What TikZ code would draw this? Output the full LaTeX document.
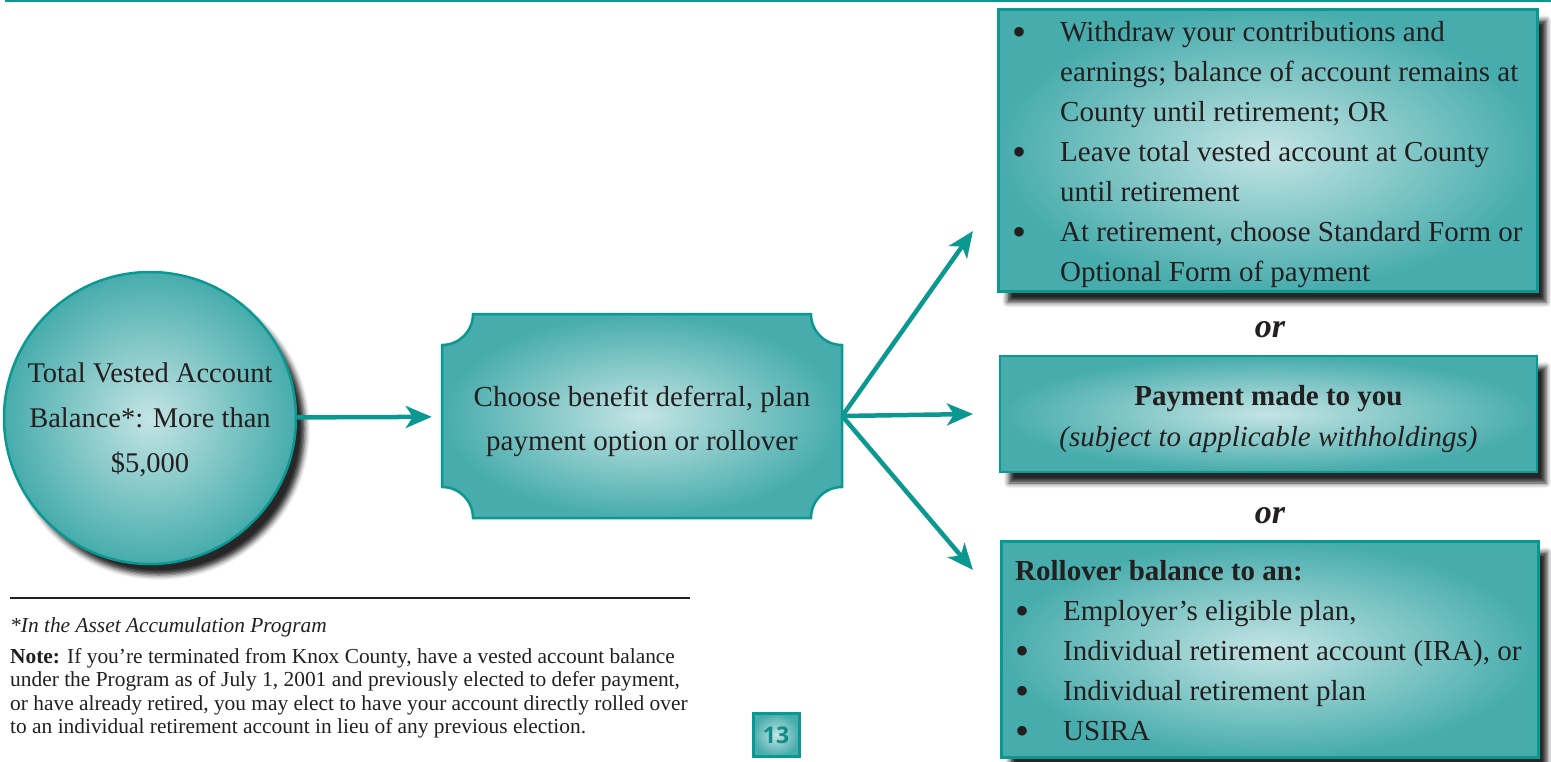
\documentclass[tikz,border=0pt]{standalone}
\usepackage{fontspec}
\setmainfont{Liberation Serif}
\newfontfamily\numfont{Open Sans}
\usetikzlibrary{arrows.meta,shadows.blur}
\definecolor{teal1}{HTML}{0B9891}
\definecolor{fillout}{HTML}{47ACAC}
\definecolor{fillin}{HTML}{C4E4E4}
\definecolor{ink}{HTML}{231F20}
\definecolor{pgteal}{HTML}{0E8C86}
\newcommand{\bigbul}{{\fontsize{40}{40}\selectfont\raisebox{-4pt}{•}}}
\tikzset{
  gradfill/.style={shade, inner color=fillin, outer color=fillout},
  boxshadow/.style={blur shadow={shadow xshift=9pt, shadow yshift=-11pt, shadow blur radius=5pt, shadow opacity=85}},
  optbox/.style={rectangle, gradfill, draw=teal1, line width=2.5pt, inner sep=0pt, boxshadow},
  flow/.style={draw=teal1, line width=4.5pt, -{Stealth[length=26pt, width=22pt, inset=7pt]}},
  bodytext/.style={text=ink, inner sep=0pt, font=\fontsize{29}{40}\selectfont},
  ortext/.style={font=\fontsize{34}{34}\selectfont\bfseries\itshape, text=ink},
}
\begin{document}
\begin{tikzpicture}[x=1pt, y=-1pt]
\useasboundingbox (0,0) rectangle (1551,761);
% top rule
\draw[teal1, line width=2.5pt] (5,1.2) -- (1551,1.2);

% circle
\node[circle, minimum size=292pt, inner sep=0pt, gradfill, draw=teal1, line width=2.5pt, boxshadow] (bal) at (150,418) {};
\node[align=center, text=ink, font=\fontsize{28.5}{45}\selectfont] (baltxt) at ([yshift=-2pt]bal.center)
  {Total Vested Account\\Balance*: More than\\\$5,000};

% ticket shape
\shadedraw[inner color=fillin, outer color=fillout, draw=teal1, line width=2.5pt]
  (473,314) -- (811,314) arc[start angle=180, end angle=90, radius=31]
  -- (842,487) arc[start angle=270, end angle=180, radius=31]
  -- (473,518) arc[start angle=360, end angle=270, radius=31]
  -- (442,345) arc[start angle=90, end angle=0, radius=31] -- cycle;
\node[minimum width=400pt, minimum height=204pt, inner sep=0pt] (choice) at (642,416) {};
\node[align=center, text=ink, font=\fontsize{29}{44}\selectfont] (choicetxt) at ([yshift=-5pt]choice.center)
  {Choose benefit deferral, plan\\payment option or rollover};

% option boxes
\node[optbox, minimum width=539pt, minimum height=282pt, anchor=north west] (opt1) at (997,8) {};
\node[bodytext, anchor=west] (opt1txt) at ([xshift=15pt, yshift=-3pt]opt1.west)
  {\begin{tabular}{@{}p{48pt}@{}l@{}}
   \bigbul& Withdraw your contributions and\\
    & earnings; balance of account remains at\\
    & County until retirement; OR\\
   \bigbul& Leave total vested account at County\\
    & until retirement\\
   \bigbul& At retirement, choose Standard Form or\\
    & Optional Form of payment
   \end{tabular}};

\node[ortext] (or1) at (1270,330) {or};

\node[optbox, minimum width=537pt, minimum height=116pt] (opt2) at (1268.5,414) {};
\node[align=center, text=ink, font=\fontsize{29}{41}\selectfont] (opt2txt) at ([yshift=-5pt]opt2.center)
  {\textbf{Payment made to you}\\\textit{(subject to applicable withholdings)}};

\node[ortext] (or2) at (1270,516) {or};

\node[optbox, minimum width=537pt, minimum height=216pt, anchor=north west] (opt3) at (1000,540) {};
\node[bodytext, anchor=west] (opt3txt) at ([xshift=15pt, yshift=-3pt]opt3.west)
  {\begin{tabular}{@{}p{48pt}@{}l@{}}
   \multicolumn{2}{@{}l@{}}{\bfseries Rollover balance to an:}\\
   \bigbul& Employer’s eligible plan,\\
   \bigbul& Individual retirement account (IRA), or\\
   \bigbul& Individual retirement plan\\
   \bigbul& USIRA
   \end{tabular}};

% connectors
\coordinate (t1) at (973,231);
\coordinate (t2) at (973,414);
\coordinate (t3) at (973,570);
\draw[flow, shorten >=10pt] (bal) -- (choice);
\draw[flow] (choice.east) -- (t1);
\draw[flow] (choice.east) -- (t2);
\draw[flow] (choice.east) -- (t3);

% footnote
\draw[ink, line width=2pt] (10,598) -- (690,598);
\node[anchor=north west, inner sep=0pt, align=left, text=ink,
      font=\fontsize{21.4}{23.6}\selectfont] (note) at (10,617)
  {\textit{*In the Asset Accumulation Program}\\[7.5pt]
   \textbf{Note:} If you’re terminated from Knox County, have a vested account balance\\
   under the Program as of July 1, 2001 and previously elected to defer payment,\\
   or have already retired, you may elect to have your account directly rolled over\\
   to an individual retirement account in lieu of any previous election.};

% page number
\node[rectangle, minimum width=46pt, minimum height=43pt, inner sep=0pt, gradfill, draw=teal1,
      line width=3pt, text=pgteal, font=\numfont\bfseries\fontsize{23}{23}\selectfont] (pg) at (776,735) {13};
\end{tikzpicture}
\end{document}
